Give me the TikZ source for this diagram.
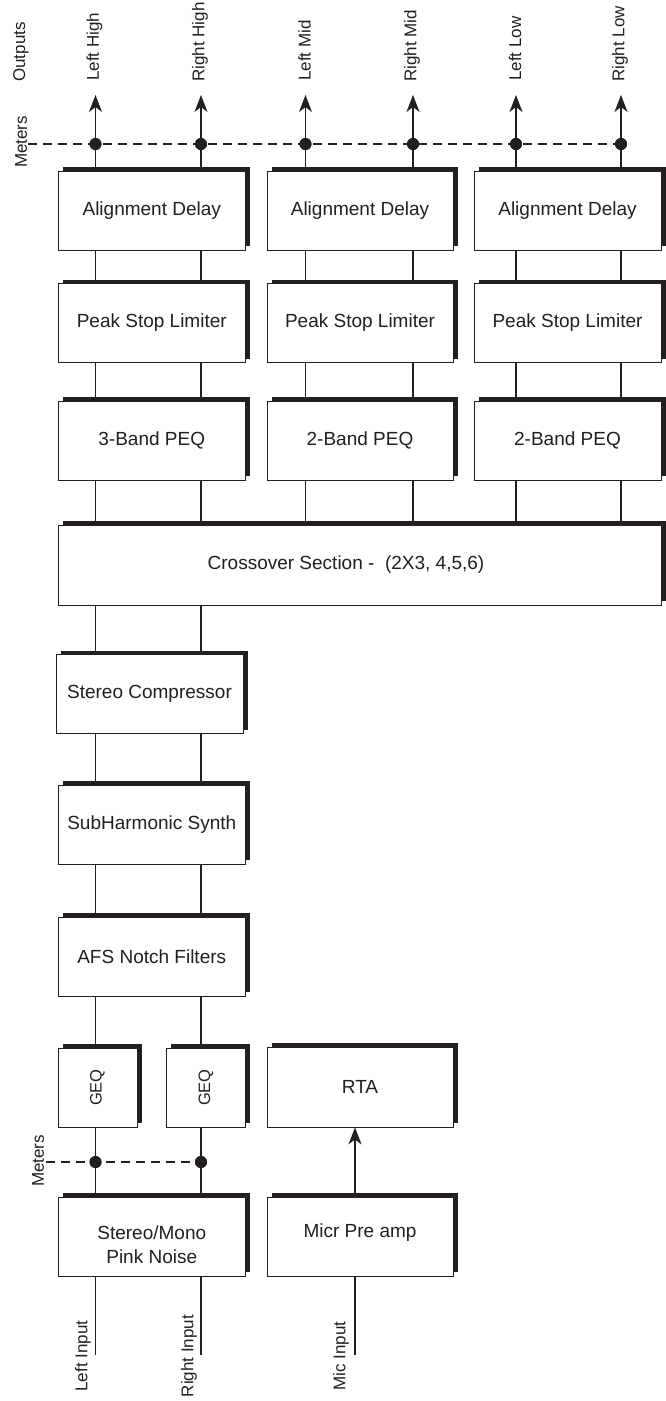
\documentclass[tikz,border=0pt]{standalone}
\usepackage{fontspec}
\setmainfont{Liberation Sans}
\usetikzlibrary{shadows,arrows.meta}
\definecolor{ink}{RGB}{35,31,32}
\begin{document}
\begin{tikzpicture}[x=1pt,y=-1pt,
  blk/.style={draw=ink, line width=0.8pt, fill=white, inner sep=0pt,
    minimum height=79pt, text=ink, font=\fontsize{19}{24}\selectfont, align=center,
    general shadow={fill=ink, shadow xshift=4.5pt, shadow yshift=4pt}},
  wire/.style={draw=ink, line width=1.2pt},
  meter/.style={draw=ink, line width=1.4pt, dash pattern=on 9pt off 6pt},
  dot/.style={circle, fill=ink, inner sep=0pt, minimum size=12pt},
  lbl/.style={text=ink, font=\fontsize{17}{20}\selectfont, inner sep=0pt, rotate=90},
  arr/.style={wire, -{Stealth[length=17pt,width=13pt,inset=5pt]}}
]
\useasboundingbox (0,0) rectangle (665,1401);

% column x positions
\coordinate (cL1) at (95.5,0);
\coordinate (cR1) at (201,0);
\coordinate (cL2) at (305.5,0);
\coordinate (cR2) at (413,0);
\coordinate (cL3) at (516,0);
\coordinate (cR3) at (621,0);
\coordinate (cM)  at (355,0);

% output section boxes
\node[blk, minimum width=187.5pt] (AD1) at (151.75,210.5) {Alignment Delay};
\node[blk, minimum width=186pt]   (AD2) at (360,210.5) {Alignment Delay};
\node[blk, minimum width=187pt]   (AD3) at (567.5,210.5) {Alignment Delay};
\node[blk, minimum width=187.5pt] (PL1) at (151.75,323) {Peak Stop Limiter};
\node[blk, minimum width=186pt]   (PL2) at (360,323) {Peak Stop Limiter};
\node[blk, minimum width=187pt]   (PL3) at (567.5,323) {Peak Stop Limiter};
\node[blk, minimum width=187.5pt] (PQ1) at (151.75,440.5) {3-Band PEQ};
\node[blk, minimum width=186pt]   (PQ2) at (360,440.5) {2-Band PEQ};
\node[blk, minimum width=187pt]   (PQ3) at (567.5,440.5) {2-Band PEQ};
\node[blk, minimum width=603pt, minimum height=80pt] (XO) at (359.5,565) {};
\node[text=ink, font=\fontsize{19}{24}\selectfont, inner sep=0pt] (XOt) at (346,565) {Crossover Section - \ (2X3, 4,5,6)};

% input section boxes
\node[blk, minimum width=187pt]   (SC) at (149.5,694) {Stereo Compressor};
\node[blk, minimum width=187.5pt] (SH) at (151.75,824.5) {SubHarmonic Synth};
\node[blk, minimum width=187.5pt] (AF) at (151.75,956.5) {AFS Notch Filters};
\node[blk, minimum width=79pt, minimum height=79pt, font=\fontsize{16.5}{20}\selectfont] (G1) at (97.5,1087.5) {\rotatebox{90}{GEQ}};
\node[blk, minimum width=79pt, minimum height=79pt, font=\fontsize{16.5}{20}\selectfont] (G2) at (206,1087.5) {\rotatebox{90}{GEQ}};
\node[blk, minimum width=186pt, minimum height=80pt] (RTA) at (360,1087) {RTA};
\node[blk, minimum width=187.5pt] (PN) at (151.75,1236.5) {};
\node[text=ink, font=\fontsize{19}{24}\selectfont, inner sep=0pt, align=center] (PNt) at (151.75,1245) {Stereo/Mono\\Pink Noise};
\node[blk, minimum width=186pt] (MP) at (360,1236.5) {};
\node[text=ink, font=\fontsize{19}{24}\selectfont, inner sep=0pt] (MPt) at (360,1233) {Micr Pre amp};

% vertical wires between stages
\foreach \a/\b in {AD1/PL1, PL1/PQ1, PQ1/XO, XO/SC, SC/SH, SH/AF} {
  \draw[wire] (\a.south -| cL1) -- (\b.north -| cL1);
  \draw[wire] (\a.south -| cR1) -- (\b.north -| cR1);
}
\foreach \a/\b in {AD2/PL2, PL2/PQ2, PQ2/XO} {
  \draw[wire] (\a.south -| cL2) -- (\b.north -| cL2);
  \draw[wire] (\a.south -| cR2) -- (\b.north -| cR2);
}
\foreach \a/\b in {AD3/PL3, PL3/PQ3, PQ3/XO} {
  \draw[wire] (\a.south -| cL3) -- (\b.north -| cL3);
  \draw[wire] (\a.south -| cR3) -- (\b.north -| cR3);
}
\draw[wire] (AF.south -| cL1) -- (G1.north -| cL1);
\draw[wire] (AF.south -| cR1) -- (G2.north -| cR1);
\draw[wire] (G1.south -| cL1) -- (PN.north -| cL1);
\draw[wire] (G2.south -| cR1) -- (PN.north -| cR1);
\draw[arr] (MP.north -| cM) -- (RTA.south -| cM);

% outputs with arrows
\coordinate (otop) at (0,95);
\foreach \c in {cL1, cR1} {\draw[arr] (AD1.north -| \c) -- (otop -| \c);}
\foreach \c in {cL2, cR2} {\draw[arr] (AD2.north -| \c) -- (otop -| \c);}
\foreach \c in {cL3, cR3} {\draw[arr] (AD3.north -| \c) -- (otop -| \c);}

% top meters
\coordinate (m0) at (28,144);
\foreach \n/\c in {1/cL1, 2/cR1, 3/cL2, 4/cR2, 5/cL3, 6/cR3} {\node[dot] (dt\n) at (m0 -| \c) {};}
\draw[meter] (m0) -- (dt6.center);
\foreach \n in {1,...,6} {\fill[ink] (dt\n) circle (6pt);}

% bottom meters
\coordinate (m1) at (46,1162);
\node[dot] (db1) at (m1 -| cL1) {};
\node[dot] (db2) at (m1 -| cR1) {};
\draw[meter] (m1) -- (db2.center);
\fill[ink] (db1) circle (6pt);
\fill[ink] (db2) circle (6pt);

% inputs
\coordinate (ibot) at (0,1355);
\draw[wire] (PN.south -| cL1) -- (ibot -| cL1);
\draw[wire] (PN.south -| cR1) -- (ibot -| cR1);
\draw[wire] (MP.south -| cM) -- (ibot -| cM);

% labels
\node[lbl, anchor=west] (lOut) at (21,82) {Outputs};
\node[lbl] (lMt) at (21,142) {Meters};
\node[lbl] (lMb) at (38,1161) {Meters};
\node[lbl, anchor=west] (o1) at (94.5,81) {Left High};
\node[lbl, anchor=west] (o2) at (200,82) {Right High};
\node[lbl, anchor=west] (o3) at (304.5,81) {Left Mid};
\node[lbl, anchor=west] (o4) at (412,82) {Right Mid};
\node[lbl, anchor=west] (o5) at (515,81) {Left Low};
\node[lbl, anchor=west] (o6) at (620,82) {Right Low};
\node[lbl, anchor=south] (i1) at (91,1356) {Left Input};
\node[lbl, anchor=south] (i2) at (197,1356) {Right Input};
\node[lbl, anchor=south] (i3) at (349,1356) {Mic Input};
\end{tikzpicture}
\end{document}
